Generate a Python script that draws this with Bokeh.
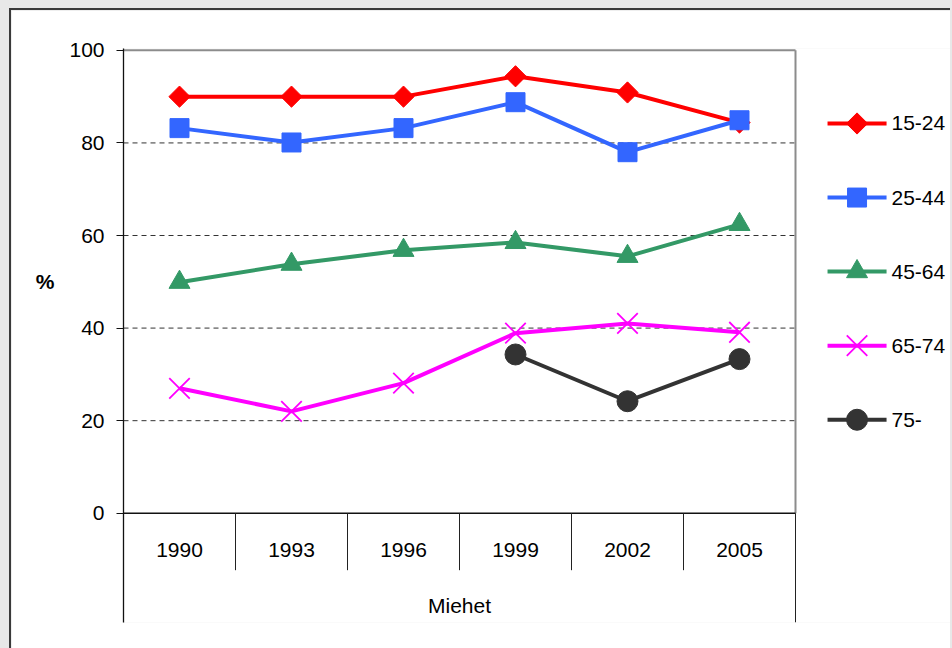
import math
from bokeh.plotting import figure
from bokeh.models import Range1d, FixedTicker, LinearAxis
from bokeh.core.properties import value
from bokeh.embed import file_html
from bokeh.resources import INLINE

# ---- data ----
years = ["1990", "1993", "1996", "1999", "2002", "2005"]
group_label = "Miehet"
age_15_24 = [90.0, 90.0, 90.0, 94.4, 90.9, 84.4]
age_25_44 = [83.2, 80.1, 83.2, 88.8, 78.0, 84.9]
age_45_64 = [49.9, 53.8, 56.8, 58.5, 55.5, 62.4]
age_65_74 = [27.0, 22.0, 28.1, 38.9, 41.0, 39.1]
age_75_years = ["1999", "2002", "2005"]
age_75 = [34.3, 24.2, 33.3]
series_names = ["15-24", "25-44", "45-64", "65-74", "75-"]
y_ticks = [0, 20, 40, 60, 80, 100]
y_label = "%"

FONT = "Liberation Sans"
FS = "21px"

colors = ["#FF0000", "#3366FF", "#339966", "#FF00FF", "#333333"]

def xpos(cats):
    return [years.index(c) + 0.5 for c in cats]

n = len(years)
Y0, Y1 = y_ticks[0], y_ticks[-1]
PX_X = 112.0            # pixels per category
FRAME_W = 941 - 112     # frame reaches the right edge (legend lives inside)
p = figure(width=941, height=642,
           x_range=Range1d(0, FRAME_W / PX_X), y_range=Range1d(-23.6, 100.4),
           output_backend="svg", toolbar_location=None,
           x_axis_type=None,
           min_border_left=112, min_border_top=38,
           min_border_right=0, min_border_bottom=30)
p.outline_line_color = None
p.background_fill_color = "white"
p.border_fill_color = "white"
p.ygrid.visible = False

# y axis
yax = p.yaxis[0]
yax.ticker = FixedTicker(ticks=y_ticks)
yax.major_tick_out = 7
yax.major_tick_in = 0
yax.minor_tick_line_color = None
yax.axis_line_color = "#111111"
yax.axis_line_width = 1.3
yax.major_tick_line_color = "#111111"
yax.major_label_text_font = FONT
yax.major_label_text_font_size = FS
yax.major_label_text_color = "black"
yax.major_label_standoff = 12

# "%" title as an outer axis label at the middle of the value range
mid = (Y0 + Y1) / 2
lab_ax = LinearAxis(ticker=FixedTicker(ticks=[mid]),
                    major_label_overrides={mid: y_label},
                    axis_line_color=None, major_tick_line_color=None,
                    minor_tick_line_color=None, major_tick_out=0, major_tick_in=0,
                    major_label_standoff=12, major_label_text_font=FONT,
                    major_label_text_font_size="21px",
                    major_label_text_font_style="bold",
                    major_label_text_color="black")
p.add_layout(lab_ax, "left")

# dashed gridlines inside the plot area
gy = [t for t in y_ticks if Y0 < t < Y1]
p.segment(x0=[0] * len(gy), y0=gy, x1=[n] * len(gy), y1=gy,
          line_color="#333333", line_dash="5 4", line_width=1)

# plot-area border (gray top and right)
p.segment(x0=[0, n], y0=[Y1, Y1], x1=[n, n], y1=[Y1, Y0],
          line_color="#8c8c8c", line_width=2)
# category axis line
p.segment(x0=[0], y0=[Y0], x1=[n], y1=[Y0], line_color="#111111", line_width=1.3)
# separators between categories
sep_x = list(range(1, n))
p.segment(x0=sep_x, y0=[Y0] * len(sep_x), x1=sep_x, y1=[-12.3] * len(sep_x),
          line_color="#222222", line_width=1)
p.segment(x0=[n], y0=[Y0], x1=[n], y1=[-23.6], line_color="#222222", line_width=1)

# category labels
p.text(x=xpos(years), y=[-8.0] * n, text=years, text_align="center",
       text_baseline="middle", text_font=value(FONT), text_font_size=FS,
       text_color="black")
p.text(x=[n / 2], y=[-19.9], text=[group_label], text_align="center",
       text_baseline="middle", text_font=value(FONT), text_font_size=FS,
       text_color="black")

specs = [
    (years, age_15_24, dict(marker="square", angle=math.pi / 4, size=15)),
    (years, age_25_44, dict(marker="square", size=19)),
    (years, age_45_64, dict(marker="triangle", size=21)),
    (years, age_65_74, dict(marker="x", size=29, line_width=1.8)),
    (age_75_years, age_75, dict(marker="circle", size=21)),
]

# legend geometry (data units of this frame)
LG_X0, LG_X1 = 6.286, 6.813
LG_TXT = 6.857
LG_TOP, LG_STEP = 84.2, 16.0

for i, ((cats, vals, mk), name, col) in enumerate(zip(specs, series_names, colors)):
    xs = xpos(cats)
    p.line(xs, vals, line_color=col, line_width=4)
    p.scatter(xs, vals, fill_color=col, line_color=col, **mk)
    # legend entry
    ly = LG_TOP - i * LG_STEP
    p.line([LG_X0, LG_X1], [ly, ly], line_color=col, line_width=4)
    p.scatter([(LG_X0 + LG_X1) / 2], [ly], fill_color=col, line_color=col, **mk)
    p.text(x=[LG_TXT], y=[ly], text=[name], text_align="left",
           text_baseline="middle", text_font=value(FONT), text_font_size=FS,
           text_color="black")

p.styles = {"margin-left": "9px", "margin-top": "8px",
            "border-top": "2px solid #3a3a3a", "border-left": "2px solid #3a3a3a"}

html = file_html(p, INLINE)
style = "<style>html, body {background:#e8e8e8; overflow:hidden;}</style>"
html = html.replace("</head>", style + "</head>", 1)
open("out.html", "w").write(html)
